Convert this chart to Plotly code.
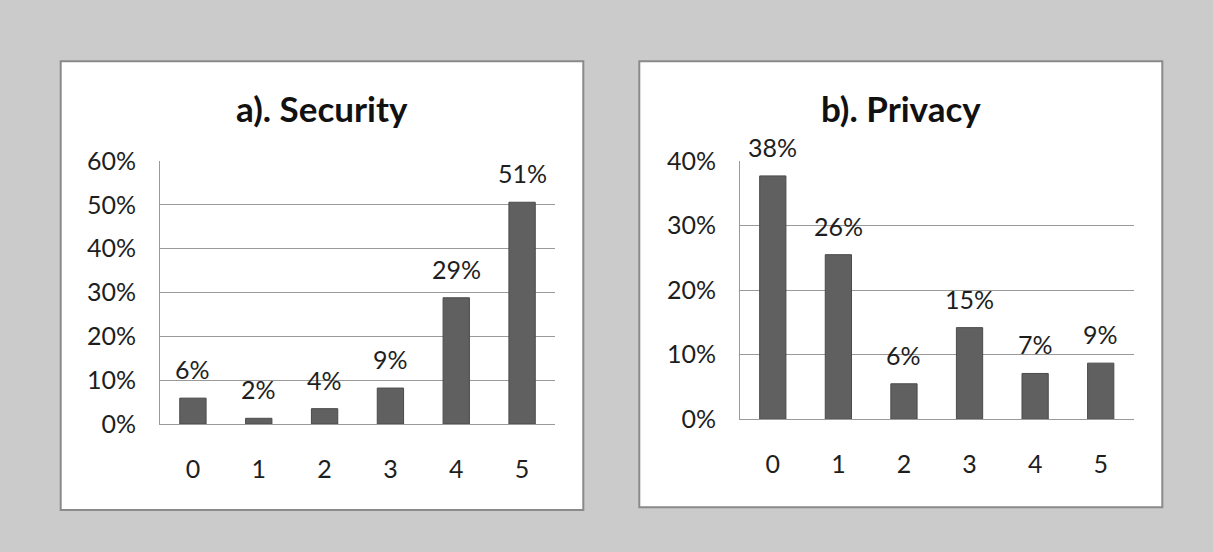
import plotly.graph_objects as go

W, H = 1213, 552

categories = ["0", "1", "2", "3", "4", "5"]
security_values = [0.059, 0.013, 0.035, 0.082, 0.288, 0.506]
security_labels = ["6%", "2%", "4%", "9%", "29%", "51%"]
privacy_values = [0.377, 0.255, 0.055, 0.142, 0.071, 0.087]
privacy_labels = ["38%", "26%", "6%", "15%", "7%", "9%"]
titles = ["a). Security", "b). Privacy"]

FONT = "Lato"
TXT = "#1e1e1e"
BAR = "#606060"
GRID = "#9a9a9a"

fig = go.Figure()

fig.add_trace(go.Bar(x=categories, y=security_values, xaxis="x", yaxis="y",
                     marker=dict(color=BAR, line=dict(color="#4a4a4a", width=1)),
                     width=0.4, showlegend=False, hoverinfo="skip"))
fig.add_trace(go.Bar(x=categories, y=privacy_values, xaxis="x2", yaxis="y2",
                     marker=dict(color=BAR, line=dict(color="#4a4a4a", width=1)),
                     width=0.4, showlegend=False, hoverinfo="skip"))

def px(v):
    return v / W

def py(v):
    return 1 - v / H

tickfont = dict(family=FONT, size=25, color=TXT)

common_x = dict(type="category", range=[-0.5, 5.5], showgrid=False, zeroline=False,
                showline=True, linecolor=GRID, linewidth=1, ticks="",
                tickfont=tickfont, ticklabelstandoff=23, fixedrange=True,
                automargin=False)
common_y = dict(showgrid=True, gridcolor=GRID, gridwidth=1, zeroline=False,
                showline=True, linecolor=GRID, linewidth=1, ticks="",
                tickformat=".0%", dtick=0.1, tickfont=tickfont,
                ticklabelstandoff=18, fixedrange=True, automargin=False)

fig.update_layout(
    width=W, height=H, autosize=False,
    margin=dict(l=0, r=0, t=0, b=0, pad=0, autoexpand=False),
    paper_bgcolor="#cbcbcb",
    plot_bgcolor="rgba(0,0,0,0)",
    showlegend=False,
    xaxis=dict(domain=[px(160), px(555)], anchor="y", **common_x),
    yaxis=dict(domain=[py(424), py(161)], anchor="x", range=[0, 0.6001], **common_y),
    xaxis2=dict(domain=[px(740), px(1133.5)], anchor="y2", **common_x),
    yaxis2=dict(domain=[py(419.3), py(161)], anchor="x2", range=[0, 0.4001], **common_y),
    shapes=[
        dict(type="rect", xref="paper", yref="paper", x0=px(60.7), x1=px(583.3),
             y0=py(510), y1=py(61.3), fillcolor="white",
             line=dict(color="#8a8a8a", width=2), layer="below"),
        dict(type="rect", xref="paper", yref="paper", x0=px(639.3), x1=px(1162.3),
             y0=py(507.3), y1=py(61.3), fillcolor="white",
             line=dict(color="#8a8a8a", width=2), layer="below"),
    ],
)

annotations = []
# panel titles
for title, cx in zip(titles, [(60.7 + 583.3) / 2, (639.3 + 1162.3) / 2]):
    annotations.append(dict(text=f"<b>{title}</b>", xref="paper", yref="paper",
                            x=px(cx), y=py(108), xanchor="center", yanchor="middle",
                            showarrow=False,
                            font=dict(family=FONT, size=35, color="#111111")))
# data labels
for xa, ya, vals, labs in [("x", "y", security_values, security_labels),
                           ("x2", "y2", privacy_values, privacy_labels)]:
    for c, v, lab in zip(categories, vals, labs):
        annotations.append(dict(text=lab, xref=xa, yref=ya, x=c, y=v,
                                xanchor="center", yanchor="bottom", yshift=12,
                                showarrow=False,
                                font=dict(family=FONT, size=25, color=TXT)))
fig.update_layout(annotations=annotations)

fig.write_html("out.html")
